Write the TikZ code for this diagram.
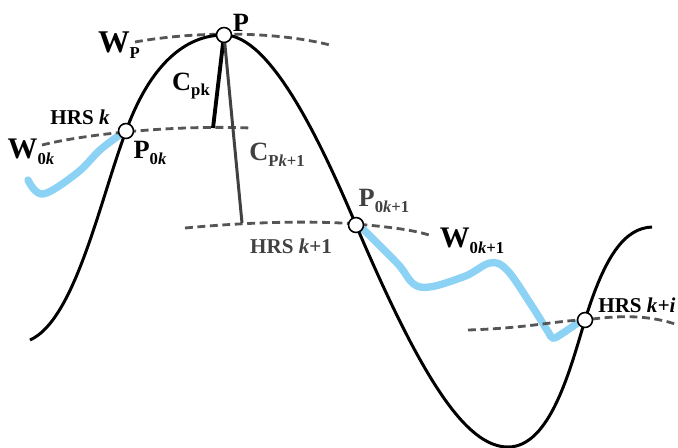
\documentclass[tikz,border=0pt]{standalone}
\usepackage{fontspec}
\setmainfont{Liberation Serif}
\usetikzlibrary{positioning}
\definecolor{frontgray}{RGB}{85,85,85}
\definecolor{labelgray}{RGB}{65,65,65}
\definecolor{routeblue}{RGB}{140,210,245}
\newcommand{\lsub}[1]{\raisebox{-3.2pt}{\fontsize{9.5}{9.5}\selectfont #1}}
\tikzset{
  ridge/.style={line width=1.7pt,black},
  front/.style={dash pattern=on 4.5pt off 2.6pt,line width=1.6pt,frontgray},
  route/.style={line width=4.2pt,routeblue,line cap=round},
  pt/.style={circle,draw=black,fill=white,line width=0.9pt,
             minimum size=8.5pt,inner sep=0pt},
  lbl/.style={font=\fontsize{15}{15}\selectfont\bfseries,inner sep=0pt},
  wlbl/.style={font=\fontsize{17}{17}\selectfont\bfseries,inner sep=0pt},
  hrs/.style={font=\fontsize{12}{12}\selectfont\bfseries,inner sep=0pt},
}
\begin{document}
\begin{tikzpicture}[x=0.02cm,y=-0.02cm]
  \useasboundingbox (0,0) rectangle (678,447);

  % blue routes
  \draw[route] plot[smooth,tension=0.6] coordinates
    {(28,180) (43,194) (77,173) (100,150) (121,134)};
  \draw[route] plot[smooth,tension=0.6] coordinates
    {(361,227) (397,263) (420,287) (463,277) (490,263) (507,270)
     (530,303) (547,330) (553,338) (563,333) (579,322)};

  % wave fronts
  \draw[front] (135,42) .. controls (190,32) and (270,30) .. (330,45);
  \draw[front] (42,145) .. controls (90,133) and (180,125) .. (250,128);
  \draw[front] (185,228) .. controls (260,221) and (320,221) .. (356,224)
               .. controls (390,227) and (415,230) .. (432,236);
  \draw[front] (468,330) .. controls (530,328) and (560,320) .. (585,320)
               .. controls (620,315) and (650,315) .. (678,325);

  % ridge
  \draw[ridge] (30,340) .. controls (75,320) and (100,200) .. (126,131)
    .. controls (150,65) and (185,35) .. (224,35)
    .. controls (270,35) and (320,140) .. (356,225)
    .. controls (420,375) and (465,447) .. (508,447)
    .. controls (550,447) and (570,370) .. (585,320)
    .. controls (605,255) and (625,228) .. (652,227);

  \node[pt] (P) at (224,35) {};
  \node[pt] (P0k) at (126,131) {};
  \node[pt] (P0kk) at (356,225) {};
  \node[pt] (Pki) at (585,320) {};
  \coordinate (cpk) at (213,128);
  \coordinate (cpkk) at (242,223);

  \draw[line width=2.2pt,black] (P) -- (cpk);
  \draw[line width=1.7pt,labelgray] (P) -- (cpkk);

  % labels
  \node[lbl] (lP) at (241,23) {P};
  \node[wlbl,font=\fontsize{18}{18}\selectfont\bfseries] (lWP) at (119,45) {W\lsub{P}};
  \node[lbl] (lCpk) at (191,86) {C\lsub{pk}};
  \node[hrs] (lHk) at (80,117) {HRS \textit{k}};
  \node[wlbl] (lW0k) at (31,152) {W\lsub{0\textit{k}}};
  \node[lbl] (lP0k) at (150,153) {P\lsub{0\textit{k}}};
  \node[lbl,labelgray] (lCpkk) at (277,155) {C\lsub{P\textit{k}+1}};
  \node[hrs,labelgray] (lHkk) at (291,246) {HRS \textit{k}+1};
  \node[lbl,labelgray] (lP0kk) at (384,201) {P\lsub{0\textit{k}+1}};
  \node[wlbl] (lW0kk) at (472,241) {W\lsub{0\textit{k}+1}};
  \node[hrs,anchor=west] (lHki) at (598,305) {HRS \textit{k+i}};
\end{tikzpicture}
\end{document}
